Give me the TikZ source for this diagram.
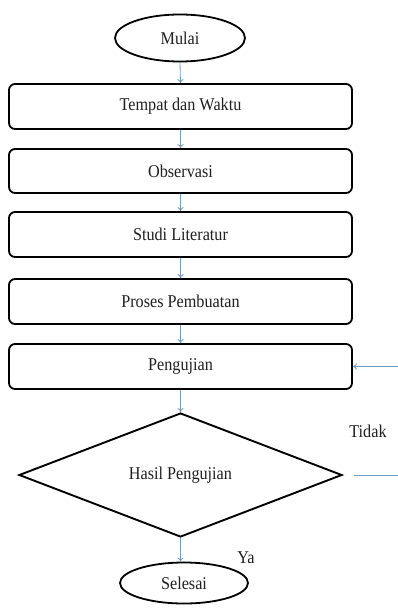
\documentclass[tikz,border=0pt]{standalone}
\usepackage{fontspec}
\setmainfont{Liberation Serif}
\newfontfamily\chartfont[FakeStretch=0.9]{Liberation Serif}
\usetikzlibrary{shapes.geometric,arrows.meta}
\definecolor{arrowblue}{RGB}{115,155,190}
\tikzset{
  txt/.style={font=\chartfont\fontsize{18}{21}\selectfont, text=black!88},
  stepbox/.style={draw=black, line width=1.8pt, rounded corners=6pt, minimum width=343pt, minimum height=45pt, inner sep=0pt, txt},
  term/.style={draw=black, line width=1.8pt, ellipse, inner sep=0pt, txt},
  decide/.style={draw=black, line width=1.9pt, diamond, aspect=2.6, minimum width=323pt, minimum height=124pt, inner sep=0pt, txt},
  flow/.style={draw=arrowblue, line width=0.8pt, -{To[length=4pt,width=6pt]}},
  lbl/.style={txt}
}
\begin{document}
\begin{tikzpicture}[x=1pt,y=-1pt]
\useasboundingbox (0,0) rectangle (397,610);
\fill[white] (0,0) rectangle (397,610);
\node[term, minimum width=130pt, minimum height=47pt] (mulai) at (180,38) {Mulai};
\node[stepbox] (tempat) at (180.5,106.5) {Tempat dan Waktu};
\node[stepbox, minimum height=44pt] (obs) at (180.5,171) {Observasi};
\node[stepbox] (studi) at (180.5,234.5) {Studi Literatur};
\node[stepbox] (proses) at (180.5,301.5) {Proses Pembuatan};
\node[stepbox] (peng) at (180.5,366.5) {Pengujian};
\node[decide] (hasil) at (180.5,475) {Hasil Pengujian};
\node[term, minimum width=128pt, minimum height=41pt] (sel) at (184,583) {Selesai};
\node[lbl] (tidak) at (368,431) {Tidak};
\node[lbl] (ya) at (246,558) {Ya};
\coordinate (back) at (410,475);

\draw[flow] (mulai.south) -- (tempat.north);
\draw[flow] (tempat) -- (obs);
\draw[flow] (obs) -- (studi);
\draw[flow] (studi) -- (proses);
\draw[flow] (proses) -- (peng);
\draw[flow] (peng) -- (hasil);
\draw[flow] (hasil.south) -- (hasil.south |- sel.north);
\draw[flow, shorten <=11pt] (hasil.east) -- (back) |- (peng.east);
\end{tikzpicture}
\end{document}
